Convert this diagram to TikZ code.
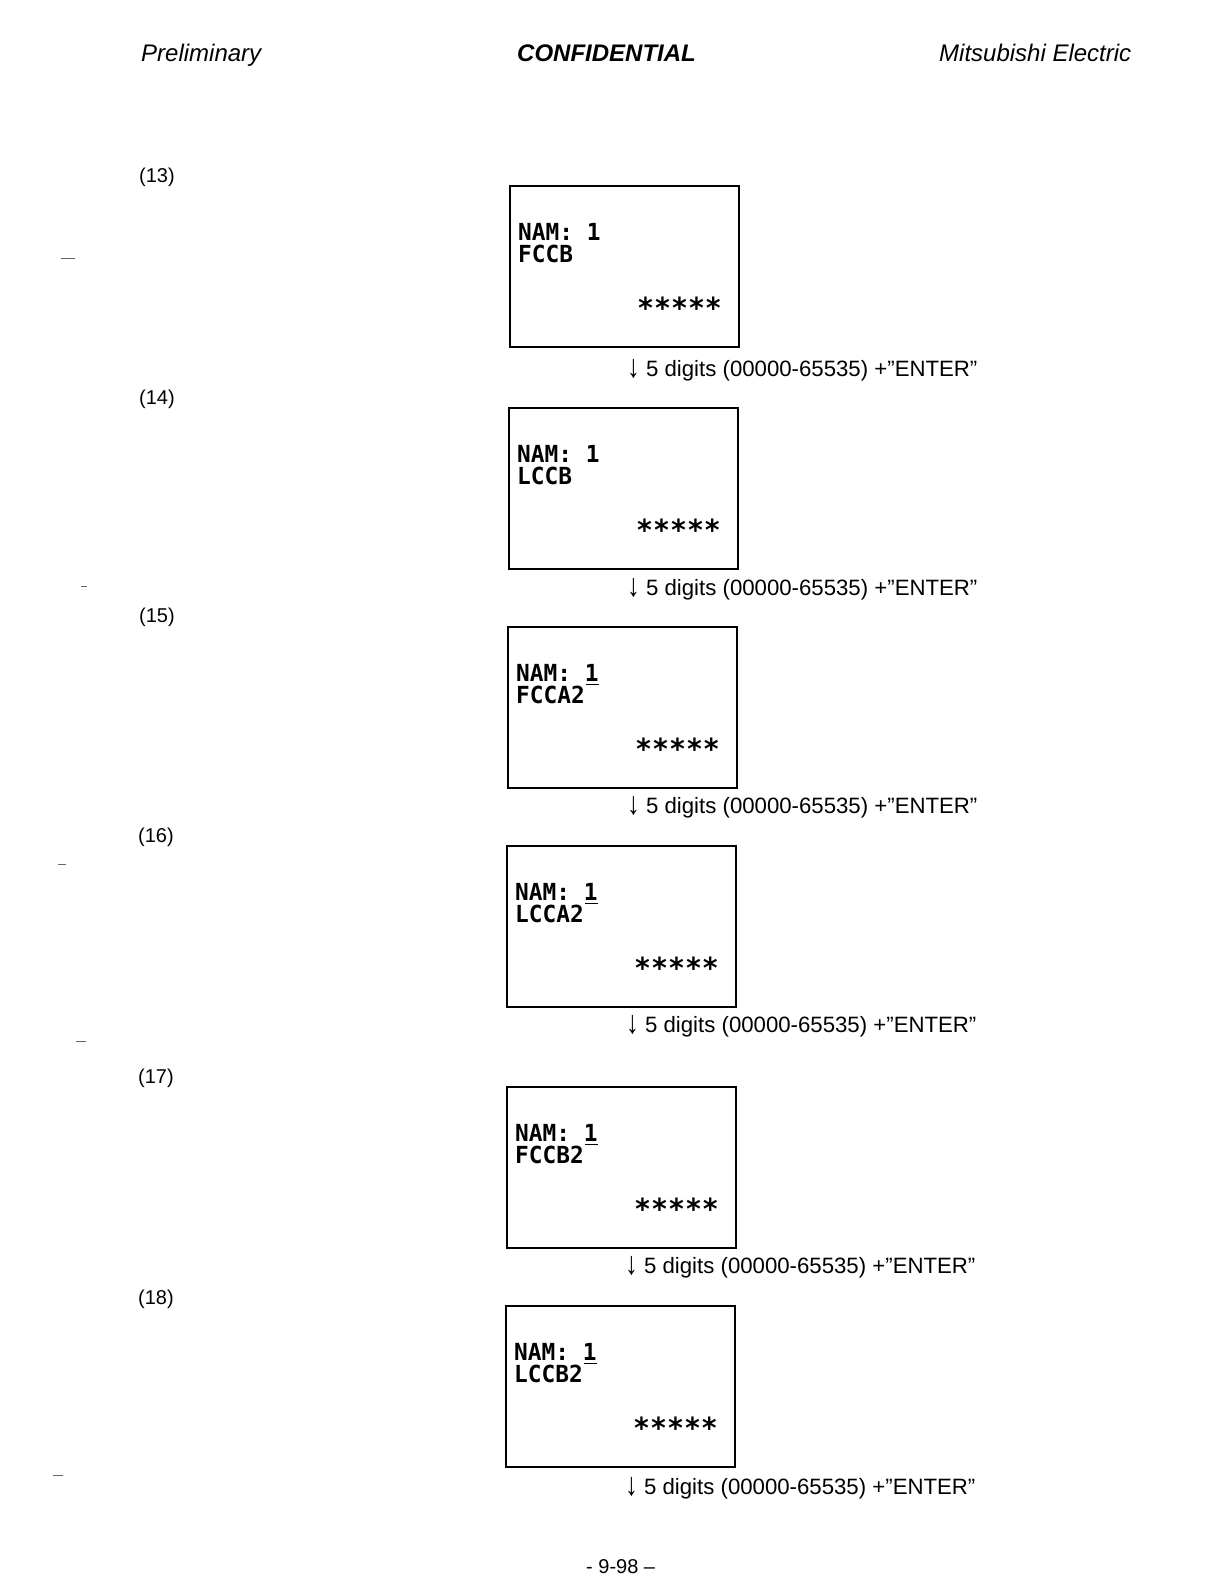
\documentclass[tikz,border=0pt]{standalone}
\usepackage{fontspec}
\setmainfont{Liberation Sans}
\newfontfamily\lcdfont[FakeStretch=0.97]{DejaVu Sans Mono}
\usetikzlibrary{calc}
\newcommand{\dnarrow}{\raisebox{-1.5pt}{\scalebox{1.15}[1.45]{\textbf{↓}}}}
\begin{document}
\begin{tikzpicture}[x=1pt,y=-1pt,
  hdr/.style={font=\fontsize{24}{28}\selectfont\itshape, anchor=base west, inner sep=0pt},
  lbl/.style={font=\fontsize{20}{22}\selectfont, anchor=west, inner sep=0pt},
  stepnote/.style={font=\fontsize{22.2}{26}\selectfont, anchor=base west, inner sep=0pt},
  lcdbox/.style={draw, line width=1.6pt, rectangle, anchor=north west, minimum width=229pt, minimum height=161pt, inner sep=0pt},
  lcdtext/.style={font=\lcdfont\bfseries\fontsize{23.5}{22}\selectfont, align=left, anchor=north west, inner sep=0pt},
  lcdstars/.style={font=\lcdfont\bfseries\fontsize{29}{30}\selectfont, anchor=base west, inner sep=0pt},
  cursor/.style={line width=1.6pt},
  speck/.style={line width=1pt, black!60}
]
\useasboundingbox (0,0) rectangle (1224,1584);
\fill[white] (0,0) rectangle (1224,1584);

% header
\node[hdr] (hl) at (141,62) {Preliminary};
\node[hdr, font=\fontsize{24}{28}\selectfont\bfseries\itshape] (hc) at (517,62) {CONFIDENTIAL};
\node[hdr] (hr) at (939,62) {Mitsubishi Electric};

% step labels
\node[lbl] (l13) at (139,177) {(13)};
\node[lbl] (l14) at (139,399) {(14)};
\node[lbl] (l15) at (139,617) {(15)};
\node[lbl] (l16) at (138,837) {(16)};
\node[lbl] (l17) at (138,1078) {(17)};
\node[lbl] (l18) at (138,1299) {(18)};

% boxes
\node[lcdbox] (b13) at (509,185) {};
\node[lcdbox] (b14) at (508,407) {};
\node[lcdbox] (b15) at (507,626) {};
\node[lcdbox] (b16) at (506,845) {};
\node[lcdbox] (b17) at (506,1086) {};
\node[lcdbox] (b18) at (505,1305) {};

% box contents
\foreach \b/\w/\u in {b13/FCCB/0, b14/LCCB/0, b15/FCCA2/1, b16/LCCA2/1, b17/FCCB2/1, b18/LCCB2/1}{
  \node[lcdtext] (\b t) at ($(\b.north west)+(9,37.9)$) {NAM: 1\\\w};
  \node[lcdstars] (\b s) at ($(\b.north west)+(128,133)$) {*****};
  \ifnum\u=1
    \draw[cursor] ($(\b.north west)+(79,58.5)$) -- ($(\b.north west)+(92,58.5)$);
  \fi
}

% step notes
\node[stepnote] (s13) at (627,376) {\dnarrow\ 5 digits (00000-65535) +”ENTER”};
\node[stepnote] (s14) at (627,595) {\dnarrow\ 5 digits (00000-65535) +”ENTER”};
\node[stepnote] (s15) at (627,813) {\dnarrow\ 5 digits (00000-65535) +”ENTER”};
\node[stepnote] (s16) at (626,1032) {\dnarrow\ 5 digits (00000-65535) +”ENTER”};
\node[stepnote] (s17) at (625,1273) {\dnarrow\ 5 digits (00000-65535) +”ENTER”};
\node[stepnote] (s18) at (625,1494) {\dnarrow\ 5 digits (00000-65535) +”ENTER”};

% page number
\node[stepnote, font=\fontsize{20}{22}\selectfont] (pg) at (586,1573) {- 9-98 –};

% scan specks
\draw[speck] (61,258) -- (75,258);
\draw[speck] (81,586) -- (87,586);
\draw[speck] (58,864) -- (66,864);
\draw[speck] (76,1041) -- (86,1041);
\draw[speck] (53,1475) -- (63,1475);
\end{tikzpicture}
\end{document}
